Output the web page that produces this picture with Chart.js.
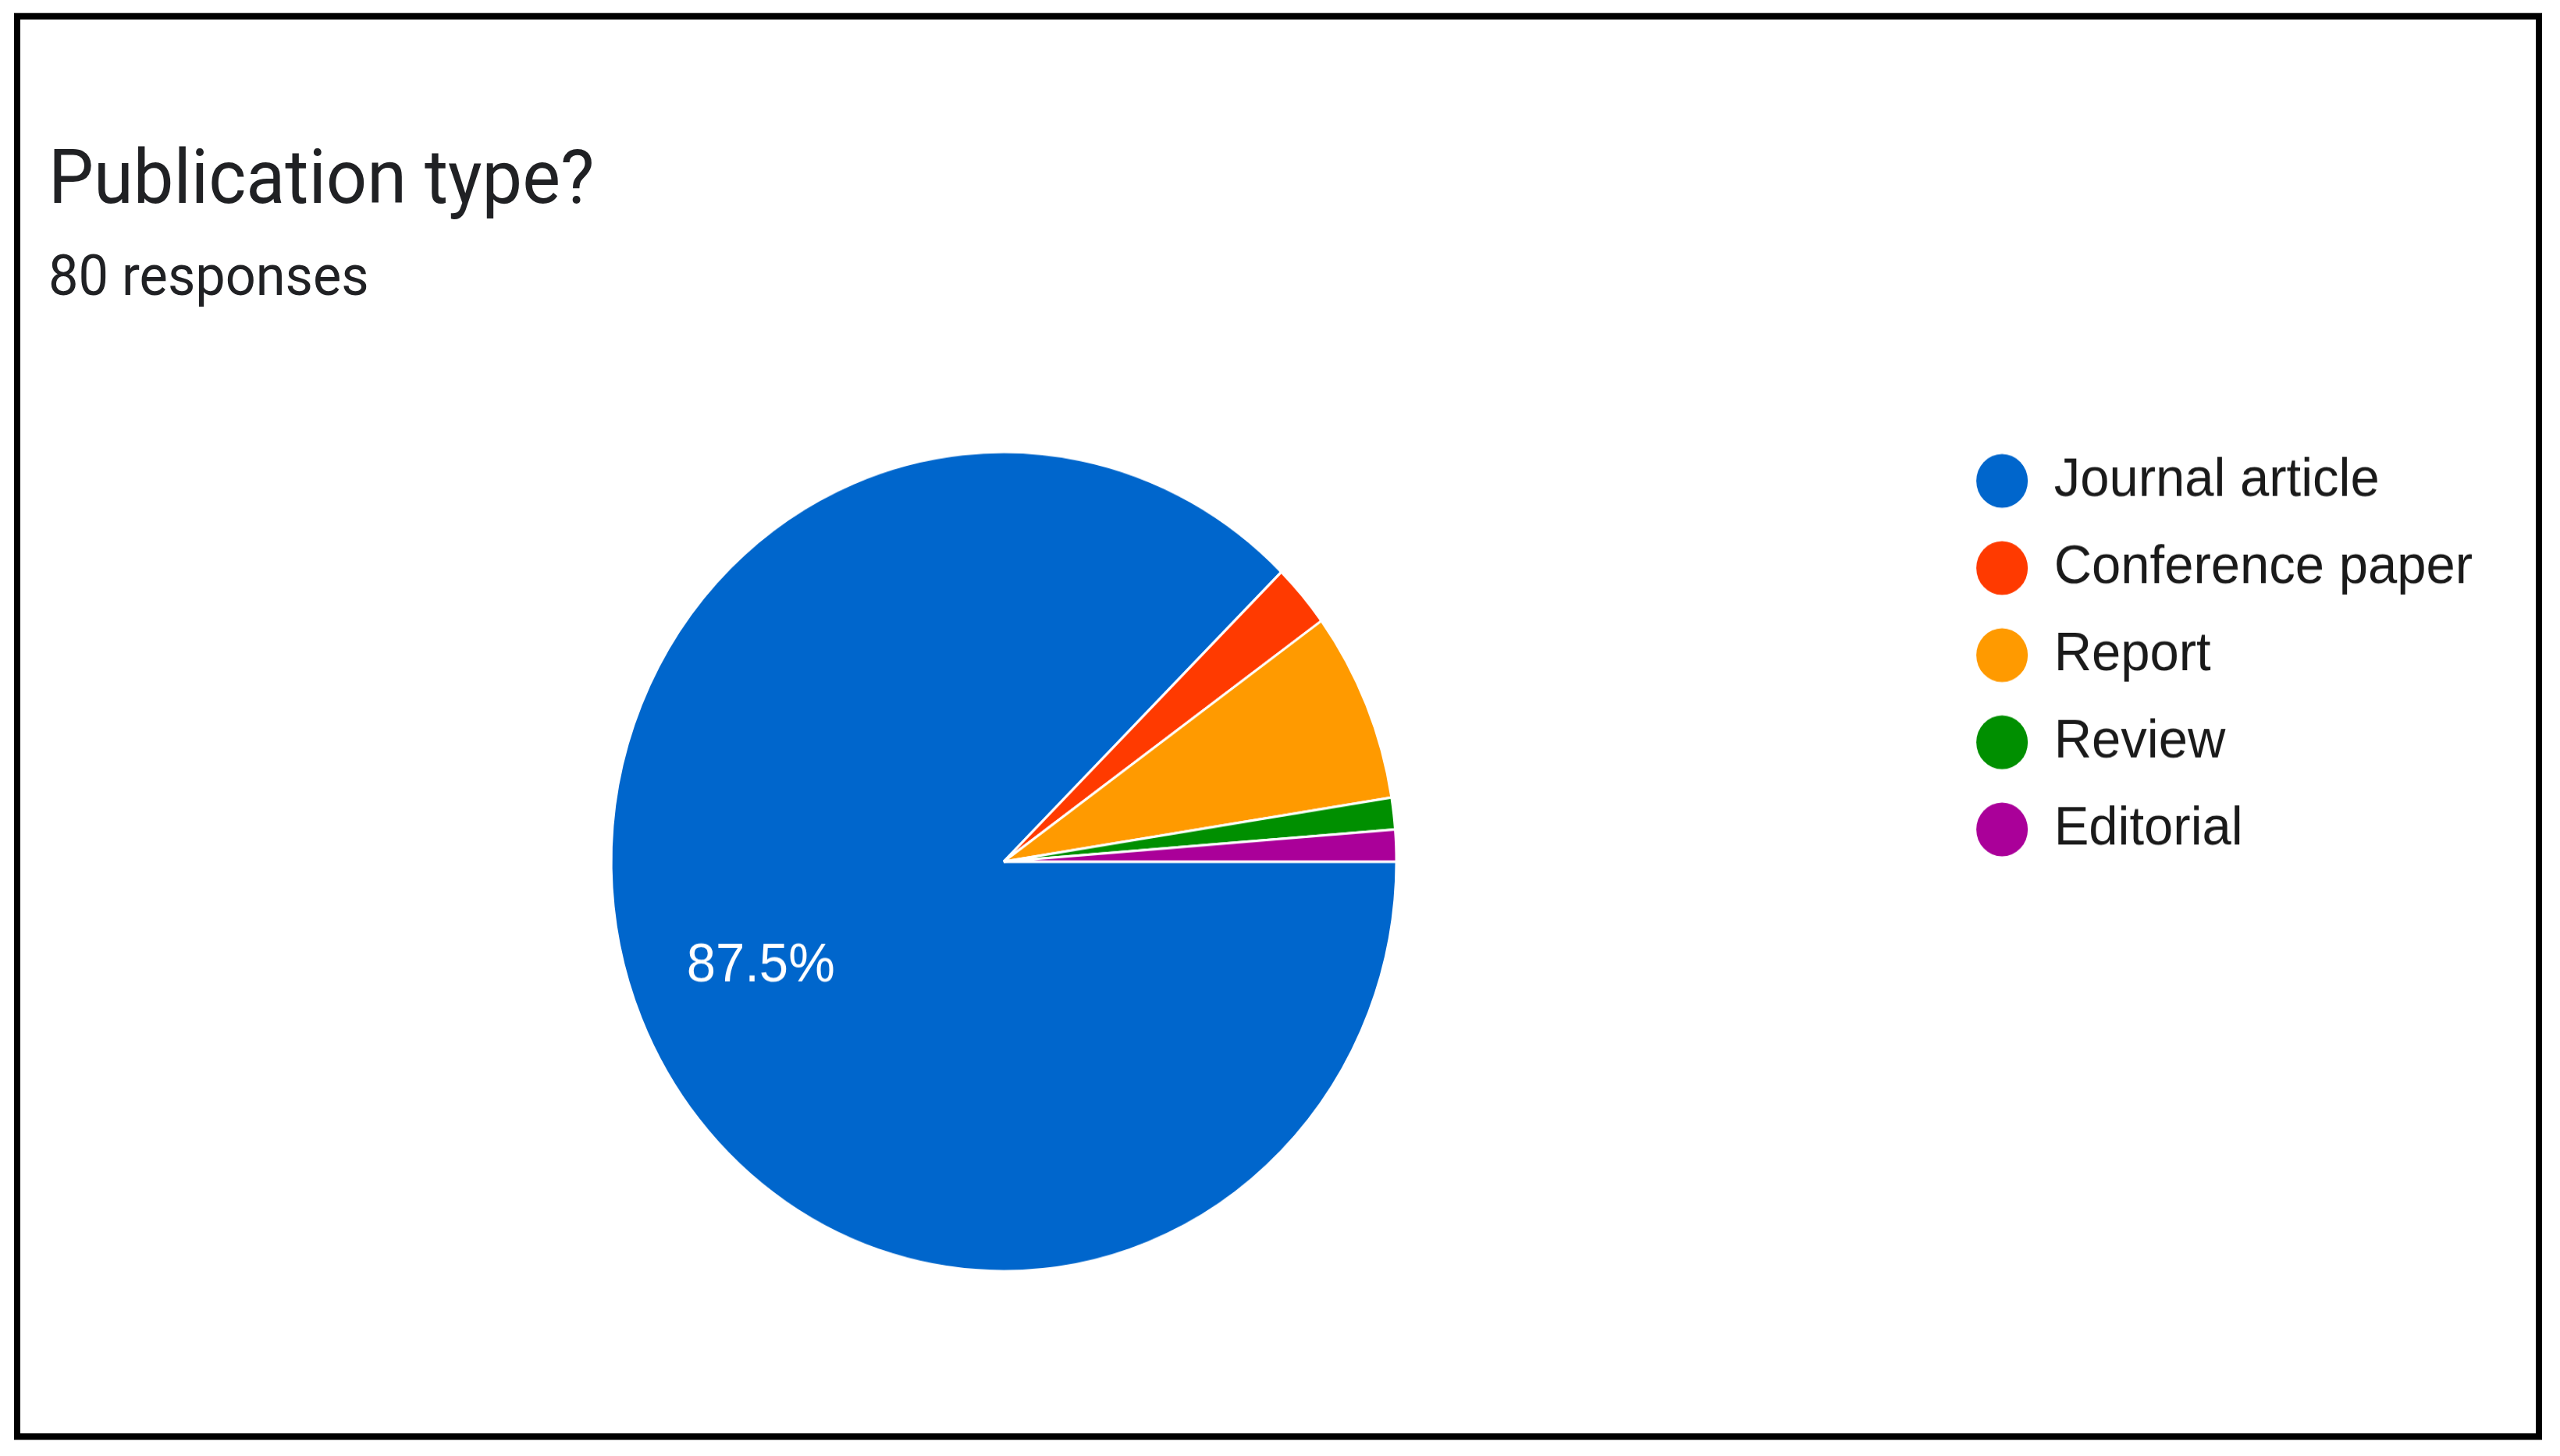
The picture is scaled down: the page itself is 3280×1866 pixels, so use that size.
<!DOCTYPE html>
<html>
<head>
<meta charset="utf-8">
<script src="https://cdn.jsdelivr.net/npm/chart.js@4.4.1/dist/chart.umd.min.js"></script>
<style>
  html, body { margin: 0; padding: 0; background: #fff; }
  body { width: 3280px; height: 1866px; overflow: hidden; position: relative; }
  /* the source screenshot is slightly stretched vertically */
  #page { position: absolute; left: 0; top: 0; width: 3280px; height: 1788px;
          transform: scaleY(1.0437); transform-origin: 0 0; }
  #frame { position: absolute; left: 18px; top: 16px; width: 3239px; height: 1752px;
           border: 8px solid #000; box-sizing: border-box; }
  .head { position: absolute; left: 62px; margin: 0; line-height: 1;
          font-family: Roboto, "Noto Sans", sans-serif; color: #202124; white-space: nowrap; }
  #title { top: 172px; font-size: 92px; font-weight: 400; }
  #sub { top: 304.5px; font-size: 68.5px; font-weight: 400; }
  #chart { position: absolute; left: 0; top: 0; }
</style>
</head>
<body>
<div id="page">
  <div id="frame"></div>
  <h1 class="head" id="title">Publication type?</h1>
  <div class="head" id="sub">80 responses</div>
  <canvas id="chart" width="3280" height="1700"></canvas>
</div>

<script>
// ============================
// Données
// ============================

const categories = ["Journal article", "Conference paper", "Report", "Review", "Editorial"];
const responses = [70, 2, 6, 1, 1];
const sliceColors = ["#0066CC", "#FF3A00", "#FF9A00", "#008F00", "#AA0099"];

const total = responses.reduce((a, b) => a + b, 0);
const labelMin = 10; // % en dessous duquel pas d'étiquette

// ============================
// Étiquettes % dans les parts
// ============================

const pctLabels = {
  id: "pctLabels",
  afterDatasetsDraw(chart) {
    const ctx = chart.ctx;
    const meta = chart.getDatasetMeta(0);
    ctx.save();
    ctx.fillStyle = "#fff";
    ctx.font = "67px 'Liberation Sans', Arial, sans-serif";
    ctx.textAlign = "center";
    ctx.textBaseline = "middle";
    meta.data.forEach((arc, i) => {
      const pct = responses[i] / total * 100;
      if (pct < labelMin) return;
      const p = arc.getProps(["x", "y", "startAngle", "endAngle", "outerRadius"], true);
      const mid = (p.startAngle + p.endAngle) / 2;
      const d = p.outerRadius * 0.67;
      ctx.fillText(pct.toFixed(1) + "%", p.x + Math.cos(mid) * d, p.y + Math.sin(mid) * d);
    });
    ctx.restore();
  }
};

// ============================
// Camembert
// ============================

new Chart(document.getElementById("chart"), {
  type: "pie",
  data: {
    labels: categories,
    datasets: [{
      data: responses,
      backgroundColor: sliceColors,
      borderColor: "#fff",
      borderWidth: 3,
      radius: 503
    }]
  },
  options: {
    responsive: false,
    animation: false,
    rotation: 90,
    layout: {
      padding: { top: 517, bottom: 101, left: 80, right: 102 }
    },
    plugins: {
      tooltip: { enabled: false },
      legend: {
        position: "right",
        align: "start",
        labels: {
          usePointStyle: true,
          pointStyle: "circle",
          pointStyleWidth: 66,
          boxHeight: 46.7,
          padding: 40,
          color: "#1a1a1a",
          font: { family: "'Liberation Sans', Arial, sans-serif", size: 67 },
          generateLabels(chart) {
            const items = Chart.controllers.pie.overrides.plugins.legend.labels.generateLabels(chart);
            return items.map(it => Object.assign(it, { lineWidth: 0 }));
          }
        }
      }
    }
  },
  plugins: [pctLabels]
});
</script>
</body>
</html>
